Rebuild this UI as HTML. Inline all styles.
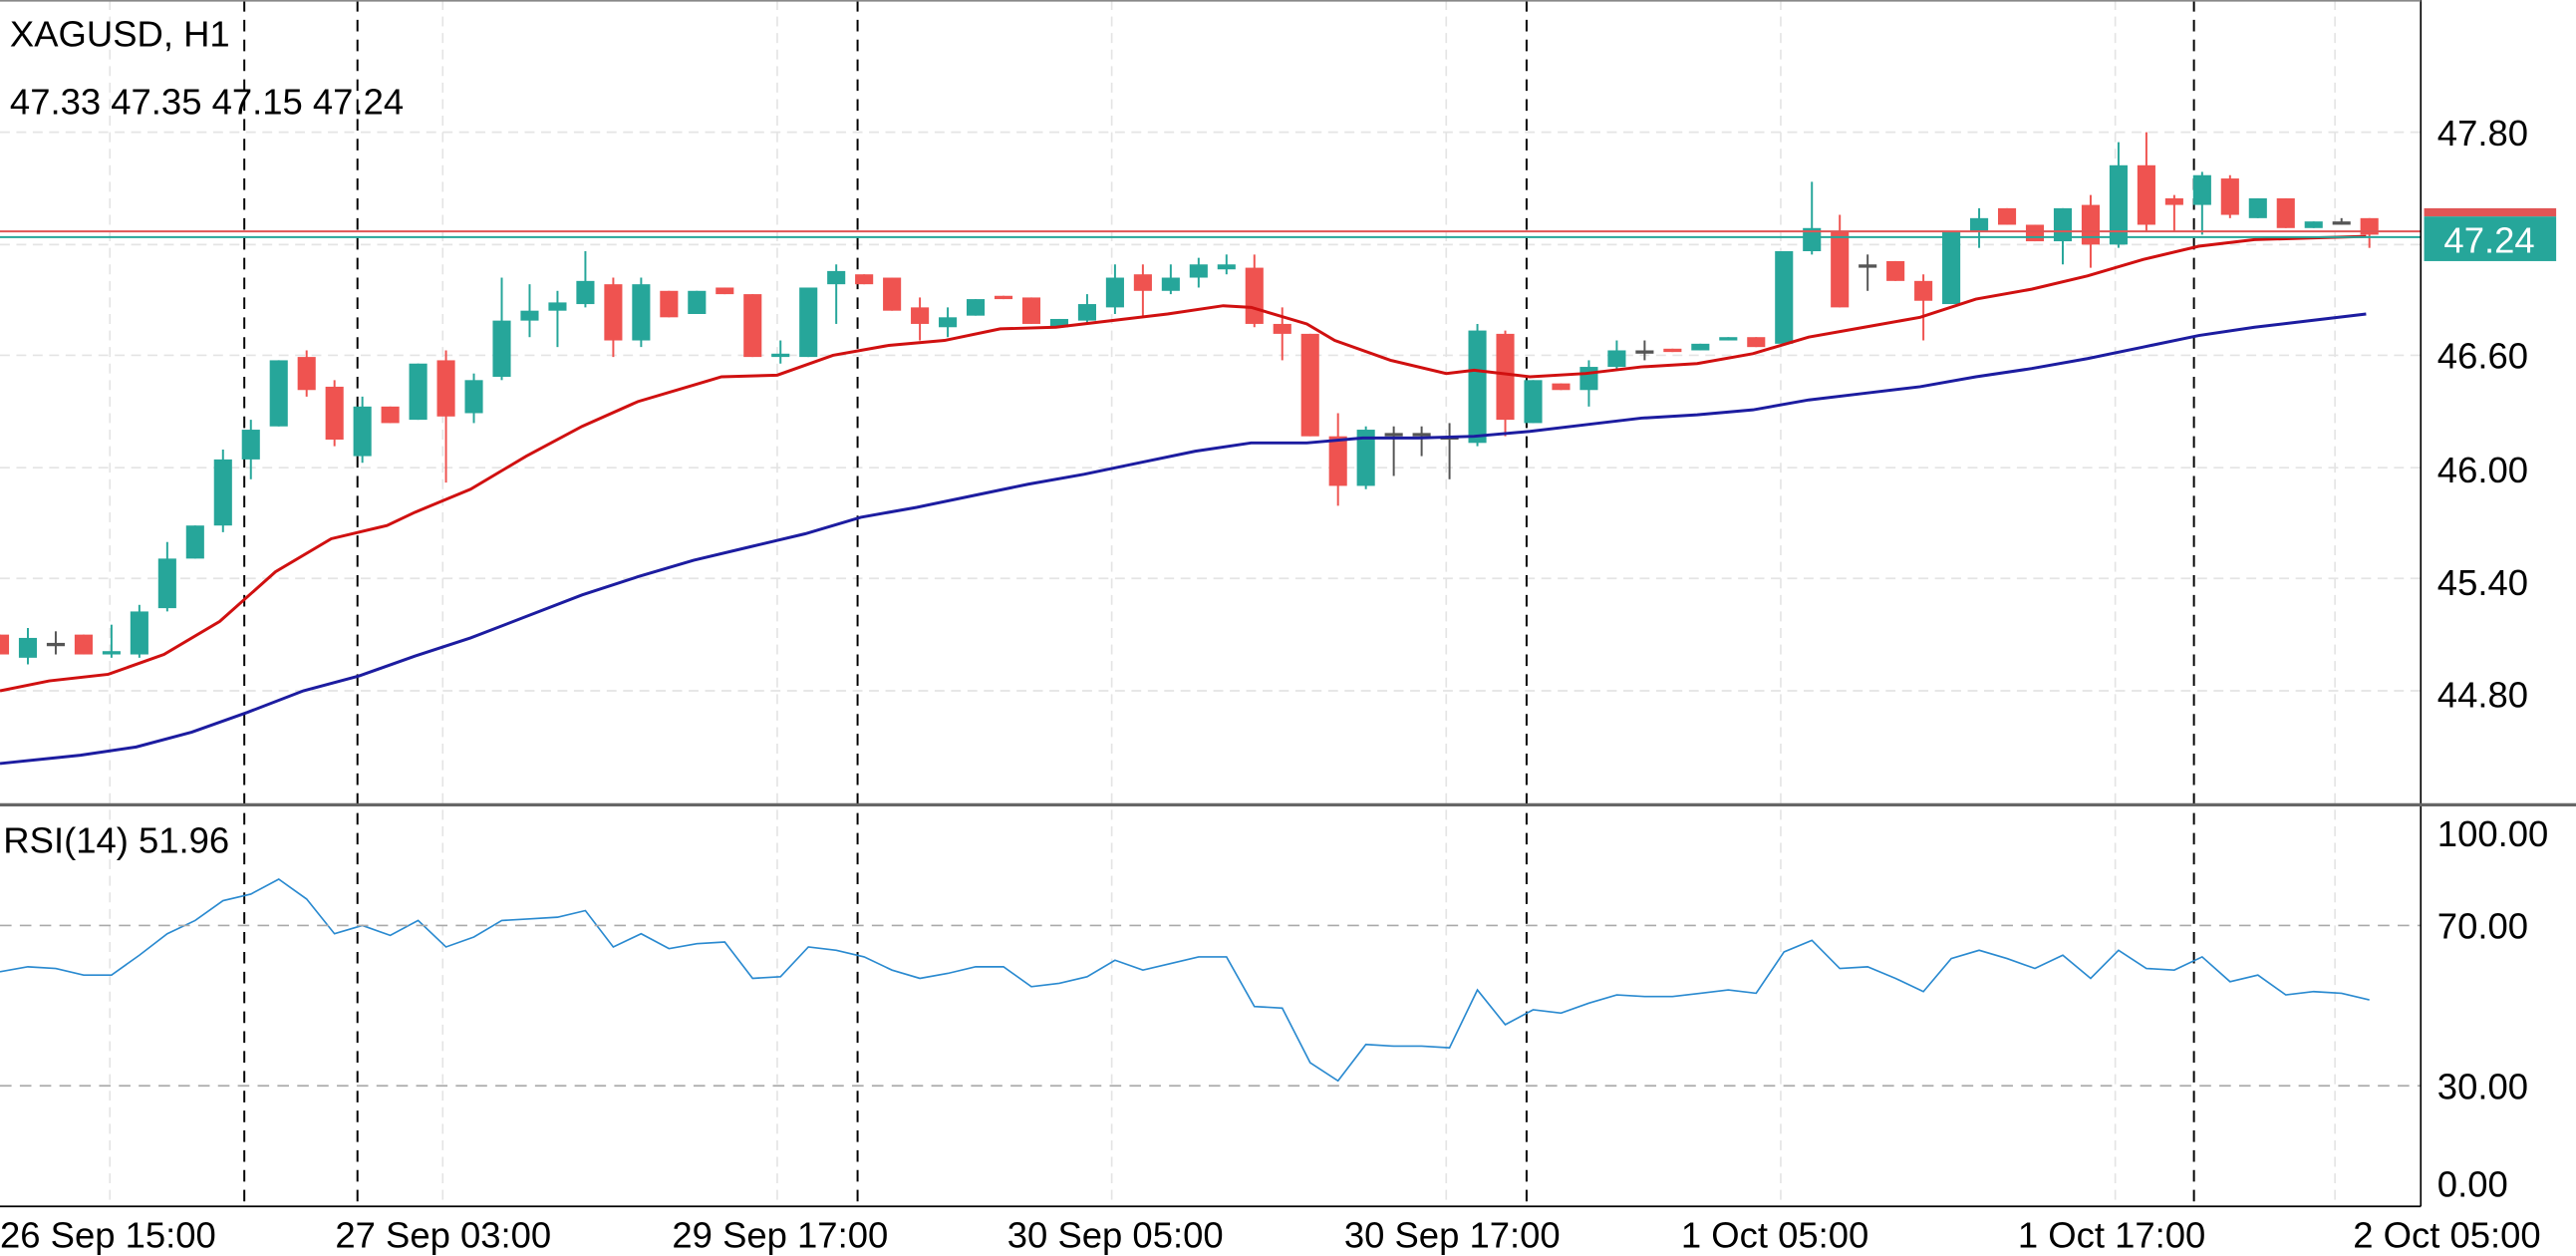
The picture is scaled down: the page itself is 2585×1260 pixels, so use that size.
<!DOCTYPE html>
<html><head><meta charset="utf-8"><style>
html,body{margin:0;padding:0;background:#fff;}
svg{display:block;}
text{font-family:"Liberation Sans","DejaVu Sans",sans-serif;}
</style></head><body>
<svg id="c" width="2585" height="1260" viewBox="0 0 1560 760" preserveAspectRatio="none" xmlns="http://www.w3.org/2000/svg">
<rect width="1560" height="760" fill="#fff"/>
<g transform="scale(0.993,1)">
<g id="grid" stroke="#e4e4e4" stroke-width="1" stroke-dasharray="6,4"></g>
<g id="vd" stroke="#000" stroke-width="1.2" stroke-dasharray="7,5"></g>
<g id="cand"></g>
<polyline id="mar" fill="none" stroke="#d01010" stroke-width="1.8"/>
<polyline id="mab" fill="none" stroke="#1c1ca0" stroke-width="1.8"/>
<polyline id="rsi" fill="none" stroke="#2a8ad0" stroke-width="1"/>
</g>
<line x1="0" y1="140" x2="1466" y2="140" stroke="#e05555" stroke-width="1.2"/>
<line x1="0" y1="143.5" x2="1466" y2="143.5" stroke="#26a69a" stroke-width="1.2"/>
<line x1="0" y1="560" x2="1466" y2="560" stroke="#aaa" stroke-dasharray="7,5"/>
<line x1="0" y1="657" x2="1466" y2="657" stroke="#aaa" stroke-dasharray="7,5"/>
<line x1="1466" y1="0" x2="1466" y2="730" stroke="#000" stroke-width="1"/>
<line x1="0" y1="487" x2="1560" y2="487" stroke="#666" stroke-width="2"/>
<line x1="0" y1="730" x2="1466" y2="730" stroke="#000" stroke-width="1"/>
<line x1="0" y1="0.5" x2="1466" y2="0.5" stroke="#888" stroke-width="1"/>
<g font-size="22" fill="#000">
<text x="1476" y="88">47.80</text>
<text x="1476" y="223">46.60</text>
<text x="1476" y="292">46.00</text>
<text x="1476" y="360">45.40</text>
<text x="1476" y="428">44.80</text>
<text x="1476" y="512">100.00</text>
<text x="1476" y="568">70.00</text>
<text x="1476" y="665">30.00</text>
<text x="1476" y="724">0.00</text>
<text x="6" y="28">XAGUSD, H1</text>
<text x="6" y="69">47.33 47.35 47.15 47.24</text>
<text x="2" y="516">RSI(14) 51.96</text>
<text x="0" y="755">26 Sep 15:00</text>
<text x="203" y="755">27 Sep 03:00</text>
<text x="407" y="755">29 Sep 17:00</text>
<text x="610" y="755">30 Sep 05:00</text>
<text x="814" y="755">30 Sep 17:00</text>
<text x="1018" y="755">1 Oct 05:00</text>
<text x="1222" y="755">1 Oct 17:00</text>
<text x="1425" y="755">2 Oct 05:00</text>
</g>
<rect x="1468" y="126" width="80" height="5" fill="#e05555"/>
<rect x="1468" y="131" width="80" height="27" fill="#26a69a"/>
<text x="1480" y="153" font-size="22" fill="#fff">47.24</text>
</svg>
<script>
var NS="http://www.w3.org/2000/svg";
function el(p,t,a){var e=document.createElementNS(NS,t);for(var k in a)e.setAttribute(k,a[k]);p.appendChild(e);return e;}
var g=document.getElementById('grid');
[80,148,215,283,350,418].forEach(function(y){el(g,'line',{x1:0,y1:y,x2:1476,y2:y});});
[67,270,474,678,882,1086,1290,1424].forEach(function(x){el(g,'line',{x1:x,y1:0,x2:x,y2:730});});
var vd=document.getElementById('vd');
[149,218,523,931,1338].forEach(function(x){el(vd,'line',{x1:x,y1:0,x2:x,y2:730});});
var C=[['r',384,396],['g',386,398,380,402],['x',389,389,382,396],['r',384,396],['g',394,396,378,398],['g',370,396,366,398],['g',338,368,328,370],['g',318,338],['g',278,318,272,322],['g',260,278,254,290],['g',218,258],['r',216,236,212,240],['r',234,266,230,270],['g',246,276,240,280],['r',246,256],['g',220,254],['r',218,252,212,292],['g',230,250,226,256],['g',194,228,168,230],['g',188,194,172,204],['g',183,188,176,210],['g',170,184,152,186],['r',172,206,168,216],['g',172,206,168,210],['r',176,192],['g',176,190],['r',174,178],['r',178,216],['g',214,216,206,220],['g',174,216],['g',164,172,160,196],['r',166,172],['r',168,188],['r',186,196,180,206],['g',192,198,186,204],['g',181,191],['r',179,181],['r',180,196],['g',193,198],['g',184,194,178,196],['g',168,186,160,190],['r',166,176,160,192],['g',168,176,160,178],['g',160,168,156,174],['g',160,163,154,166],['r',162,196,154,198],['r',196,202,186,218],['r',202,264],['r',264,294,250,306],['g',260,294,258,296],['x',262,262,258,288],['x',262,262,258,276],['x',264,264,256,290],['g',200,268,196,270],['r',202,254,200,264],['g',230,256],['r',232,236],['g',222,236,218,246],['g',212,222,206,224],['x',212,212,206,218],['r',211,213],['g',208,212],['g',204,206],['r',204,210],['g',152,208],['g',138,152,110,154],['r',140,186,130,186],['x',160,160,154,176],['r',158,170],['r',170,182,166,206],['g',140,184],['g',132,140,126,150],['r',126,136],['r',136,146],['g',126,146,126,160],['r',124,148,118,162],['g',100,148,86,150],['r',100,136,80,140],['r',120,124,118,140],['g',106,124,104,142],['r',108,130,106,132],['g',120,132],['r',120,138],['g',134,138],['x',134,134,132,136],['r',132,142,132,150]];
var cg=document.getElementById('cand');
C.forEach(function(c,i){var x=i*17;var col=c[0]=='g'?'#26a69a':c[0]=='r'?'#ef5350':'#555';
var wt=c[3]||c[1],wb=c[4]||c[2];
el(cg,'line',{x1:x,y1:wt,x2:x,y2:wb,stroke:col,'stroke-width':1.2});
var h=Math.max(c[2]-c[1],2);el(cg,'rect',{x:x-5.5,y:c[1],width:11,height:h,fill:col});});
function pts(a){return a.map(function(p){return p.join(',');}).join(' ');}
document.getElementById('mar').setAttribute('points',pts([[0,418],[30,412],[66,408],[100,396],[134,376],[168,346],[202,326],[236,318],[253,310],[287,296],[321,276],[355,258],[389,243],[423,233],[440,228],[474,227],[508,215],[542,209],[576,206],[610,199],[644,198],[678,194],[712,190],[746,185],[763,186],[797,196],[814,206],[848,218],[882,226],[899,224],[933,228],[967,226],[1001,222],[1035,220],[1069,214],[1103,204],[1137,198],[1171,192],[1205,181],[1239,175],[1273,167],[1307,157],[1341,149],[1375,145],[1409,144],[1443,143]]));
document.getElementById('mab').setAttribute('points',pts([[0,462],[49,457],[83,452],[117,443],[151,431],[185,418],[219,409],[253,397],[287,386],[321,373],[355,360],[389,349],[423,339],[457,331],[491,323],[525,313],[559,307],[593,300],[627,293],[661,287],[695,280],[729,273],[763,268],[797,268],[831,265],[865,265],[899,264],[933,261],[967,257],[1001,253],[1035,251],[1069,248],[1103,242],[1137,238],[1171,234],[1205,228],[1239,223],[1273,217],[1307,210],[1341,203],[1375,198],[1409,194],[1443,190]]));
var R=[588,585,586,590,590,578,565,557,545,541,532,544,565,560,566,557,573,567,557,556,555,551,573,565,574,571,570,592,591,573,575,579,587,592,589,585,585,597,595,591,581,587,583,579,579,609,610,643,654,632,633,633,634,599,620,611,613,607,602,603,603,601,599,601,576,569,586,585,592,600,580,575,580,586,578,592,575,586,587,579,594,590,602,600,601,605];
document.getElementById('rsi').setAttribute('points',R.map(function(y,i){return (i*17)+','+y;}).join(' '));
</script>
</body></html>
